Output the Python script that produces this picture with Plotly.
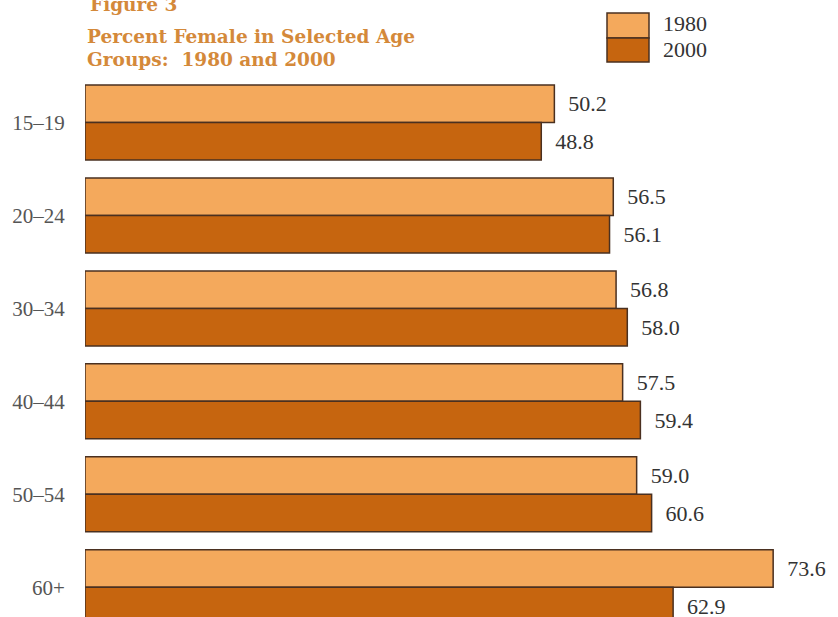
import plotly.graph_objects as go

ages = ["15–19", "20–24", "30–34", "40–44", "50–54", "60+"]
years = ["1980", "2000"]
v1980 = [50.2, 56.5, 56.8, 57.5, 59.0, 73.6]
v2000 = [48.8, 56.1, 58.0, 59.4, 60.6, 62.9]

c_light = "#F4A95C"
c_dark = "#C6650F"
c_edge = "#4A3020"
c_title = "#D4893A"
serif = "Liberation Serif"
title_font = "DejaVu Serif"

W, H = 838, 617
ml, mt, mb, mr = 85, 76, 0, 0
pw, ph = W - ml - mr, H - mt - mb

def px_x(x):
    return (x - ml) / pw

def px_y(y):
    return (H - mb - y) / ph

fig = go.Figure()
for name, vals, col in [(years[0], v1980, c_light), (years[1], v2000, c_dark)]:
    fig.add_trace(go.Bar(
        y=ages, x=vals, name=name, orientation="h",
        marker=dict(color=col, line=dict(color=c_edge, width=1.5)),
        texttemplate="\u00a0\u00a0%{x:.1f}", textposition="outside",
        textfont=dict(family=serif, size=22, color="#333333"),
        constraintext="none", cliponaxis=False, showlegend=False,
    ))

fig.update_layout(
    width=W, height=H,
    margin=dict(l=ml, r=mr, t=mt, b=mb, pad=0),
    paper_bgcolor="white", plot_bgcolor="white",
    barmode="group", bargap=0.193, bargroupgap=0,
    xaxis=dict(range=[0, pw / 9.35], visible=False, showgrid=False, zeroline=False),
    yaxis=dict(range=[5.32, -0.5], showgrid=False, zeroline=False, showline=False,
               ticks="outside", ticklen=15, tickcolor="rgba(0,0,0,0)",
               tickfont=dict(family=serif, size=21, color="#555555")),
)

# title
fig.add_annotation(xref="paper", yref="paper", x=px_x(88), y=px_y(4), xanchor="left", yanchor="middle",
                   text="<b>Figure 3</b>", showarrow=False,
                   font=dict(family=title_font, size=18.5, color=c_title))
fig.add_annotation(xref="paper", yref="paper", x=px_x(85), y=px_y(37), xanchor="left", yanchor="middle",
                   text="<b>Percent Female in Selected Age</b>", showarrow=False,
                   font=dict(family=title_font, size=18.5, color=c_title))
fig.add_annotation(xref="paper", yref="paper", x=px_x(85), y=px_y(59), xanchor="left", yanchor="middle",
                   text="<b>Groups:  1980 and 2000</b>", showarrow=False,
                   font=dict(family=title_font, size=18.5, color=c_title))

# legend boxes
legend_rows = [(years[0], c_light, 13, 38, 23), (years[1], c_dark, 38, 62, 49)]
for name, col, top, bot, cy in legend_rows:
    fig.add_shape(type="rect", xref="paper", yref="paper",
                  x0=px_x(607), x1=px_x(649), y0=px_y(bot), y1=px_y(top),
                  fillcolor=col, line=dict(color=c_edge, width=1.5))
    fig.add_annotation(xref="paper", yref="paper", x=px_x(661), y=px_y(cy), xanchor="left", yanchor="middle",
                       text=name, showarrow=False,
                       font=dict(family=serif, size=22, color="#333333"))

fig.write_html("out.html", config={"displayModeBar": False},
               post_script="document.body.style.margin='0';document.body.style.overflow='hidden';")
